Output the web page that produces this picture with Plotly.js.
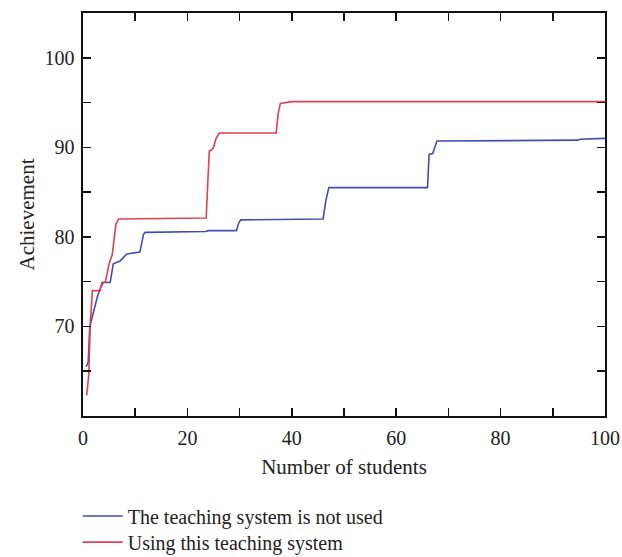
<!DOCTYPE html>
<html>
<head>
<meta charset="utf-8">
<script src="https://cdn.plot.ly/plotly-3.0.1.min.js"></script>
<style>html,body{margin:0;padding:0;background:#fff;}#chart{width:622px;height:557px;}</style>
</head>
<body>
<div id="chart"></div>
<script>
// Series
const notUsedX = [0.6, 1.0, 1.3, 1.7, 2.4, 2.8, 3.4, 3.9, 5.2, 5.8, 7.1, 8.4, 10.9, 11.6, 11.9, 23.5, 24.0, 29.4, 29.8, 30.2, 46.0, 46.5, 47.1, 66.0, 66.3, 67.0, 67.4, 67.8, 94.8, 95.2, 100];
const notUsedY = [65.5, 66.0, 70.0, 70.9, 72.5, 73.4, 74.4, 74.9, 74.9, 77.0, 77.3, 78.1, 78.3, 80.3, 80.5, 80.6, 80.7, 80.7, 81.5, 81.9, 82.0, 84.0, 85.5, 85.5, 89.2, 89.3, 90.0, 90.7, 90.8, 90.9, 91.0];
const usingX = [0.7, 1.1, 1.4, 1.8, 3.3, 3.6, 4.3, 5.0, 5.6, 6.3, 6.8, 23.6, 23.9, 24.2, 24.6, 25.0, 25.5, 26.1, 37.0, 37.4, 37.8, 40.0, 100];
const usingY = [62.3, 64.5, 70.5, 74.0, 74.0, 74.9, 75.0, 77.0, 78.0, 81.4, 82.0, 82.1, 86.0, 89.6, 89.7, 90.0, 91.0, 91.6, 91.6, 93.8, 94.9, 95.1, 95.1];
const seriesNames = ["The teaching system is not used", "Using this teaching system"];
const xTickVals = [0, 20, 40, 60, 80, 100];
const yTickVals = [70, 80, 90, 100];

const font = "'Liberation Serif', 'DejaVu Serif', serif";
const traces = [
  {x: notUsedX, y: notUsedY, mode: 'lines', name: seriesNames[0], legend: 'legend', line: {color: '#3f4db5', width: 1.6}},
  {x: usingX, y: usingY, mode: 'lines', name: seriesNames[1], legend: 'legend2', line: {color: '#e0414f', width: 1.6}}
];
const axisCommon = {
  showline: true, linecolor: '#111', linewidth: 1.6, mirror: 'ticks',
  ticks: 'inside', ticklen: 8, tickwidth: 1.6, tickcolor: '#111', ticklabelstandoff: 3,
  showgrid: false, zeroline: false, tickfont: {family: font, size: 20, color: '#222'}
};
const legendCommon = {x: -0.01, xanchor: 'left', yanchor: 'middle', orientation: 'v', itemwidth: 40,
  font: {family: font, size: 20, color: '#222'}, bgcolor: 'rgba(0,0,0,0)'};
const layout = {
  width: 622, height: 557,
  margin: {l: 83, r: 17, t: 13, b: 141, autoexpand: false},
  paper_bgcolor: '#fff', plot_bgcolor: '#fff',
  font: {family: font, color: '#222'},
  xaxis: Object.assign({}, axisCommon, {
    range: [0, 100], tickvals: xTickVals, ticktext: xTickVals.map(String),
    minor: {dtick: 10, tick0: 0, ticks: 'inside', ticklen: 8, tickwidth: 1.6, tickcolor: '#111'},
    title: {text: 'Number of students', font: {family: font, size: 21, color: '#222'}, standoff: 12}
  }),
  yaxis: Object.assign({}, axisCommon, {
    range: [60, 105], tickvals: yTickVals, ticktext: yTickVals.map(String),
    minor: {dtick: 5, tick0: 0, ticks: 'inside', ticklen: 8, tickwidth: 1.6, tickcolor: '#111'},
    title: {text: 'Achievement', font: {family: font, size: 21, color: '#222'}, standoff: 4}
  }),
  showlegend: true,
  legend: Object.assign({}, legendCommon, {y: -0.248}),
  legend2: Object.assign({}, legendCommon, {y: -0.313})
};
Plotly.newPlot('chart', traces, layout, {displayModeBar: false, staticPlot: true});
</script>
</body>
</html>
